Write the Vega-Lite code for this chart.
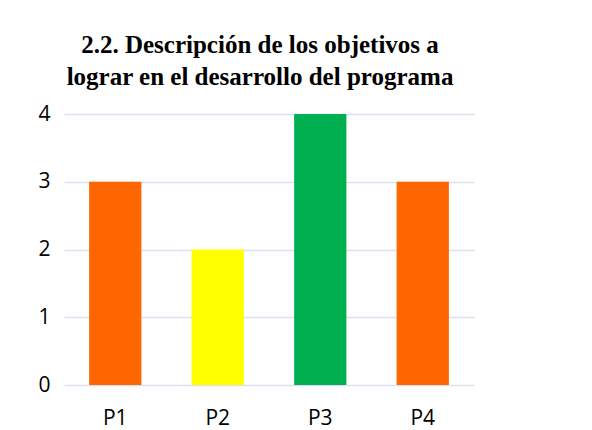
{
  "$schema": "https://vega.github.io/schema/vega-lite/v6.json",
  "autosize": {"type": "none"},
  "width": 410,
  "height": 271,
  "padding": {"left": 64, "top": 114, "right": 118, "bottom": 45},
  "background": "white",
  "title": {
    "text": ["2.2. Descripción de los objetivos a", "lograr en el desarrollo del programa"],
    "font": "Liberation Serif",
    "fontSize": 25,
    "fontWeight": "bold",
    "lineHeight": 32,
    "color": "#000000",
    "anchor": "middle",
    "dx": -9,
    "offset": 13
  },
  "data": {
    "values": [
      {"pregunta": "P1", "valor": 3, "color": "#FF6600"},
      {"pregunta": "P2", "valor": 2, "color": "#FFFF00"},
      {"pregunta": "P3", "valor": 4, "color": "#00B050"},
      {"pregunta": "P4", "valor": 3, "color": "#FF6600"}
    ]
  },
  "mark": {"type": "bar"},
  "encoding": {
    "x": {
      "field": "pregunta",
      "type": "nominal",
      "sort": null,
      "scale": {"paddingInner": 0.49, "paddingOuter": 0.245},
      "axis": {
        "title": null,
        "labelAngle": 0,
        "domain": false,
        "ticks": false,
        "labelFont": "Open Sans",
        "labelFontSize": 21,
        "labelColor": "#000000",
        "labelPadding": 22
      }
    },
    "y": {
      "field": "valor",
      "type": "quantitative",
      "scale": {"domain": [0, 4], "nice": false},
      "axis": {
        "title": null,
        "values": [0, 1, 2, 3, 4],
        "domain": false,
        "ticks": false,
        "labelFont": "Open Sans",
        "labelFontSize": 21,
        "labelColor": "#000000",
        "labelPadding": 14,
        "gridColor": "#D9E2F3",
        "gridWidth": 1.5
      }
    },
    "color": {"field": "color", "type": "nominal", "scale": null, "legend": null}
  },
  "config": {"view": {"stroke": null}}
}
